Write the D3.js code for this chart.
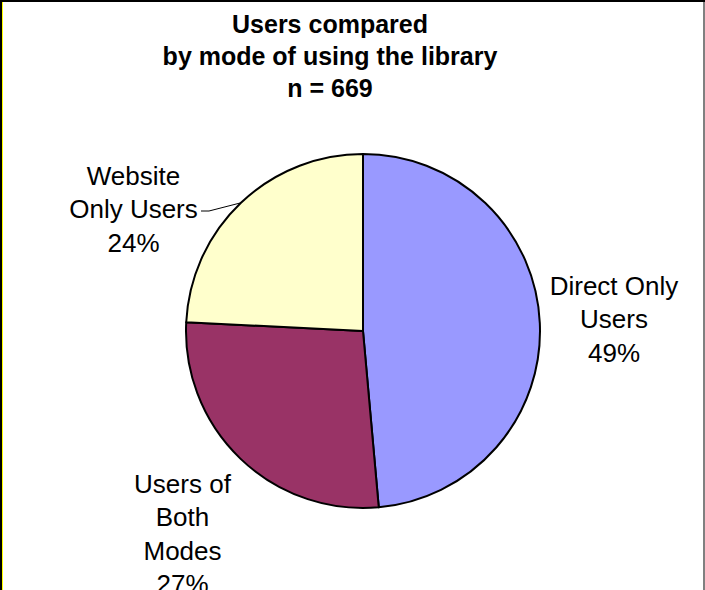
<!DOCTYPE html>
<html>
<head>
<meta charset="utf-8">
<script src="https://cdn.jsdelivr.net/npm/d3@7/dist/d3.min.js"></script>
<style>
  html, body { margin: 0; padding: 0; background: #ffffff; }
  svg { display: block; }
</style>
</head>
<body>
<script>
// Survey respondents by how they use the library
const categories = ["Direct Only Users", "Users of Both Modes", "Website Only Users"];
const counts = [325, 182, 162];
const labelLines = [["Direct Only", "Users"], ["Users of", "Both", "Modes"], ["Website", "Only Users"]];
const colors = ["#9999FF", "#993366", "#FFFFCC"];
const titleLines = ["Users compared", "by mode of using the library"];

const W = 705, H = 590;
const cx = 363, cy = 331, R = 177;
const lineH = 33.3;
// first-baseline anchor of each label block (centre x, baseline y)
const labelAnchor = [[614, 295], [182.5, 493], [133.5, 185]];

const total = d3.sum(counts);

const svg = d3.select("body").append("svg")
  .attr("width", W).attr("height", H);

svg.append("rect").attr("width", W).attr("height", H).attr("fill", "#ffffff");

// frame
svg.append("line").attr("x1", 0).attr("x2", W).attr("y1", 1).attr("y2", 1)
  .attr("stroke", "#000").attr("stroke-width", 2);
svg.append("line").attr("x1", 1).attr("x2", 1).attr("y1", 0).attr("y2", H)
  .attr("stroke", "#000").attr("stroke-width", 2);
svg.append("line").attr("x1", 2.5).attr("x2", 2.5).attr("y1", 2).attr("y2", H)
  .attr("stroke", "#ffff00").attr("stroke-width", 1);
svg.append("line").attr("x1", 704).attr("x2", 704).attr("y1", 2).attr("y2", H)
  .attr("stroke", "#808080").attr("stroke-width", 2);

// title
const title = svg.append("text")
  .attr("text-anchor", "middle")
  .attr("font-family", "Liberation Sans, Arial, sans-serif")
  .attr("font-weight", "bold")
  .attr("font-size", 25)
  .attr("fill", "#000");
[...titleLines, `n = ${total}`].forEach((t, i) => {
  title.append("tspan").attr("x", 330).attr("y", 33 + i * 32).text(t);
});

// pie
const pie = d3.pie().sort(null).value(d => d)(counts);
const arc = d3.arc().innerRadius(0).outerRadius(R);
const edge = d3.arc().innerRadius(R).outerRadius(R);

const g = svg.append("g").attr("transform", `translate(${cx},${cy})`);
g.selectAll("path.slice").data(pie).join("path")
  .attr("class", "slice")
  .attr("d", arc)
  .attr("fill", (d, i) => colors[i])
  .attr("stroke", "#000")
  .attr("stroke-width", 2)
  .attr("stroke-linejoin", "round");

// labels
pie.forEach((d, i) => {
  const [lx, ly] = labelAnchor[i];
  const pct = Math.round(d.value / total * 100) + "%";
  const lines = [...labelLines[i], pct];
  const t = svg.append("text")
    .attr("text-anchor", "middle")
    .attr("font-family", "Liberation Sans, Arial, sans-serif")
    .attr("font-size", 26)
    .attr("fill", "#000");
  lines.forEach((s, k) => {
    t.append("tspan").attr("x", lx).attr("y", ly + k * lineH).text(s);
  });
});

// leader line from the website label to its slice
{
  const d = pie[2];
  const [ex, ey] = edge.centroid(d);
  const sx = 201, sy = 211;
  svg.append("path")
    .attr("d", d3.line()([[sx, sy], [sx + 8, sy], [cx + ex, cy + ey]]))
    .attr("fill", "none")
    .attr("stroke", "#000")
    .attr("stroke-width", 1);
}
</script>
</body>
</html>
